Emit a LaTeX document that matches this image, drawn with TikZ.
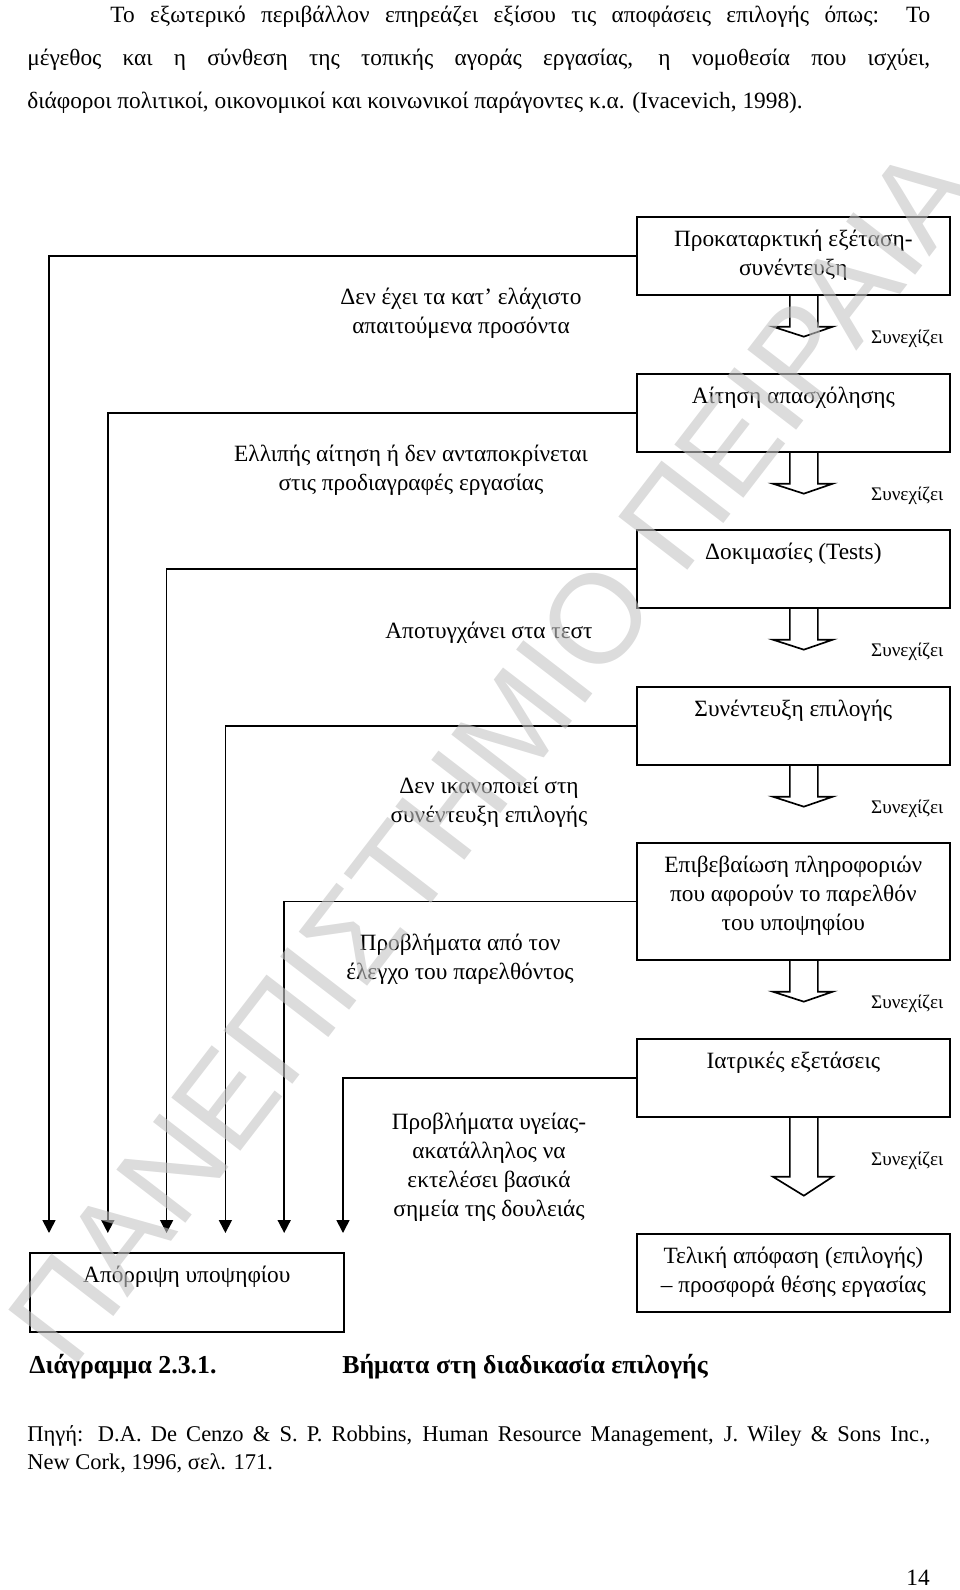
\documentclass[tikz,border=0pt]{standalone}
\usepackage{fontspec}
\setmainfont{Liberation Serif}
\newfontfamily\wmfont{Liberation Sans}
\usetikzlibrary{arrows.meta,positioning}
\definecolor{wmgray}{gray}{0.77}

\begin{document}
\begin{tikzpicture}[x=0.6pt, y=-0.6pt,
        stepbox/.style={draw, line width=1pt, anchor=north west, inner sep=0pt,
            minimum width=187.8pt, minimum height=46.8pt},
        steptext/.style={align=center, inner sep=0pt, font=\fontsize{14}{17.4}\selectfont},
        reason/.style={align=center, inner sep=0pt, font=\fontsize{14}{17.4}\selectfont},
        goon/.style={anchor=east, inner sep=0pt, font=\fontsize{11.5}{13}\selectfont},
        reject/.style={line width=1pt, -{Triangle[width=7.8pt, length=7.8pt]}},
        block/.style={line width=1pt},
        plain/.style={inner sep=0pt, font=\fontsize{14}{17}\selectfont},
        watermark/.style={font=\wmfont\fontsize{76}{76}\selectfont, text=wmgray,
            text opacity=0.6, rotate=52.4, inner sep=0pt}
    ]
    \useasboundingbox (0,0) rectangle (960,1590);

    \node[plain, anchor=north west, text width=541.8pt, align=justify,
        font=\fontsize{14}{25.8}\selectfont] (para) at (27,6)
        {\hspace*{49.8pt}Το εξωτερικό περιβάλλον επηρεάζει εξίσου τις αποφάσεις επιλογής όπως: Το\linebreak
        μέγεθος και η σύνθεση της τοπικής αγοράς εργασίας, η νομοθεσία που ισχύει,\linebreak
        διάφοροι πολιτικοί, οικονομικοί και κοινωνικοί παράγοντες κ.α. (Ivacevich, 1998).};

    \node[stepbox] (pre) at (636,216) {};
    \node[stepbox] (app) at (636,373) {};
    \node[stepbox] (tst) at (636,529) {};
    \node[stepbox] (itv) at (636,686) {};
    \node[stepbox, minimum height=70.2pt] (chk) at (636,842) {};
    \node[stepbox] (med) at (636,1038) {};
    \node[stepbox] (fin) at (636,1233) {};
    \node[stepbox, minimum width=188.4pt, minimum height=47.4pt] (rej) at (29,1252) {};

    \node[steptext, below=8pt of pre.north] (pre-t) {Προκαταρκτική εξέταση-\\συνέντευξη};
    \node[steptext, below=8pt of app.north] (app-t) {Αίτηση απασχόλησης};
    \node[steptext, below=8pt of tst.north] (tst-t) {Δοκιμασίες (Tests)};
    \node[steptext, below=8pt of itv.north] (itv-t) {Συνέντευξη επιλογής};
    \node[steptext, below=8pt of chk.north] (chk-t) {Επιβεβαίωση πληροφοριών\\που αφορούν το παρελθόν\\του υποψηφίου};
    \node[steptext, below=8pt of med.north] (med-t) {Ιατρικές εξετάσεις};
    \node[steptext, below=8pt of fin.north] (fin-t) {Τελική απόφαση (επιλογής)\\– προσφορά θέσης εργασίας};
    \node[steptext, below=8pt of rej.north] (rej-t) {Απόρριψη υποψηφίου};

    \foreach \b in {pre,app,tst,itv,chk}
        \draw[block, shift={(\b.south)}] (-3.5,0) -- (-3.5,31) -- (-20.5,31) -- (10.5,41)
            -- (39.5,31) -- (24.5,31) -- (24.5,0);
    \draw[block, shift={(med.south)}] (-3.5,0) -- (-3.5,59) -- (-20.5,59) -- (10.5,78)
        -- (39.5,59) -- (24.5,59) -- (24.5,0);

    \foreach \b in {pre,app,tst,itv,chk,med}
        \node[goon] (\b-go) at ([xshift=-4.2pt, yshift=-25.8pt]\b.south east) {Συνεχίζει};

    \node[reason] (why1) at (461,313) {Δεν έχει τα κατ’ ελάχιστο\\απαιτούμενα προσόντα};
    \node[reason] (why2) at (411,470) {Ελλιπής αίτηση ή δεν ανταποκρίνεται\\στις προδιαγραφές εργασίας};
    \node[reason] (why3) at (489,633) {Αποτυγχάνει στα τεστ};
    \node[reason] (why4) at (489,802) {Δεν ικανοποιεί στη\\συνέντευξη επιλογής};
    \node[reason] (why5) at (460,959) {Προβλήματα από τον\\έλεγχο του παρελθόντος};
    \node[reason] (why6) at (489,1167) {Προβλήματα υγείας-\\ακατάλληλος να\\εκτελέσει βασικά\\σημεία της δουλειάς};

    \foreach \b [count=\i] in {pre,app,tst,itv,chk,med} {
        \coordinate (r\i) at ({49+58.8*(\i-1)},1233);
        \draw[reject] (\b.west) -| (r\i);
    }

    \node[plain, anchor=west, font=\fontsize{15.5}{17}\selectfont\bfseries] (cap) at (29,1367) {Διάγραμμα 2.3.1.};
    \node[plain, anchor=west, font=\fontsize{15.5}{17}\selectfont\bfseries] (cap-t) at (342,1367) {Βήματα στη διαδικασία επιλογής};

    \node[plain, anchor=north west, text width=541.8pt, align=justify,
        font=\fontsize{13.5}{17}\selectfont] (src) at (27,1425)
        {Πηγή: D.A. De Cenzo \& S. P. Robbins, Human Resource Management, J. Wiley \& Sons Inc.,\linebreak
        New Cork, 1996, σελ. 171.};
    \node[plain, anchor=east] (page) at (930,1578) {14};

    \node[watermark] (wm) at (492,754) {ΠΑΝΕΠΙΣΤΗΜΙΟ ΠΕΙΡΑΙΑ};
\end{tikzpicture}
\end{document}
